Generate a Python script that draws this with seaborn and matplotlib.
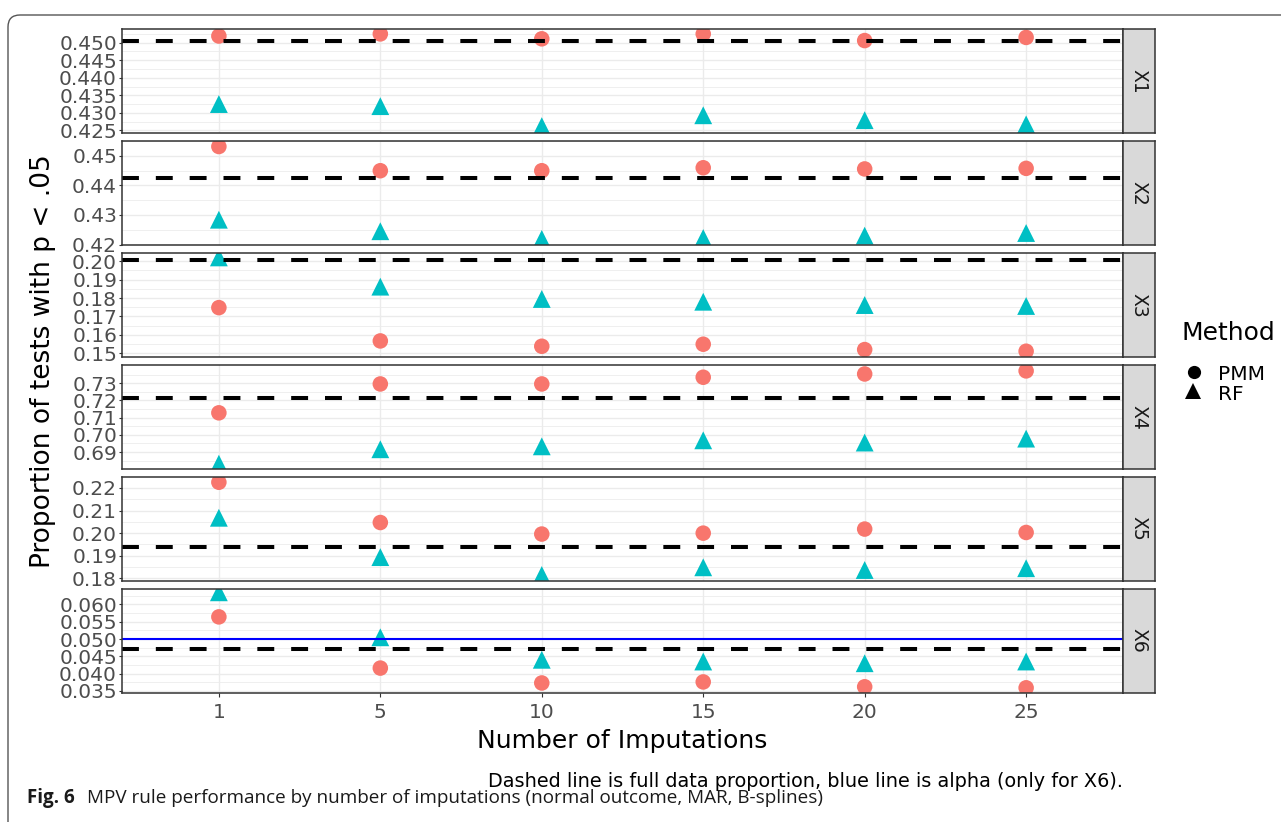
import matplotlib
matplotlib.use("Agg")
import matplotlib.pyplot as plt
import seaborn as sns
import pandas as pd
import numpy as np
from matplotlib.lines import Line2D
from matplotlib.patches import FancyBboxPatch
from matplotlib.transforms import IdentityTransform

# ---------------- data ----------------
imputations = ["1", "5", "10", "15", "20", "25"]
variables = ["X1", "X2", "X3", "X4", "X5", "X6"]
methods = ["PMM", "RF"]

PMM_X1 = [0.4519, 0.4525, 0.4511, 0.4525, 0.4506, 0.4515]
RF_X1 = [0.4325, 0.4319, 0.4262, 0.4293, 0.4279, 0.4267]
PMM_X2 = [0.4532, 0.4450, 0.4450, 0.4460, 0.4456, 0.4458]
RF_X2 = [0.4284, 0.4245, 0.4219, 0.4222, 0.4230, 0.4239]
PMM_X3 = [0.1748, 0.1567, 0.1538, 0.1549, 0.1520, 0.1511]
RF_X3 = [0.2021, 0.1862, 0.1795, 0.1780, 0.1762, 0.1757]
PMM_X4 = [0.7128, 0.7296, 0.7296, 0.7335, 0.7354, 0.7372]
RF_X4 = [0.6832, 0.6916, 0.6933, 0.6968, 0.6955, 0.6978]
PMM_X5 = [0.2225, 0.2047, 0.1996, 0.2000, 0.2018, 0.2003]
RF_X5 = [0.2068, 0.1894, 0.1815, 0.1849, 0.1837, 0.1845]
PMM_X6 = [0.0564, 0.0416, 0.0373, 0.0376, 0.0362, 0.0359]
RF_X6 = [0.0635, 0.0505, 0.0440, 0.0435, 0.0430, 0.0435]

FULL_DATA = [0.4505, 0.4427, 0.2005, 0.7213, 0.1940, 0.0470]
ALPHA = 0.05

YTICKS_X1 = [0.425, 0.430, 0.435, 0.440, 0.445, 0.450]
YTICKS_X2 = [0.42, 0.43, 0.44, 0.45]
YTICKS_X3 = [0.15, 0.16, 0.17, 0.18, 0.19, 0.20]
YTICKS_X4 = [0.69, 0.70, 0.71, 0.72, 0.73]
YTICKS_X5 = [0.18, 0.19, 0.20, 0.21, 0.22]
YTICKS_X6 = [0.035, 0.040, 0.045, 0.050, 0.055, 0.060]

pmm_series = [PMM_X1, PMM_X2, PMM_X3, PMM_X4, PMM_X5, PMM_X6]
rf_series = [RF_X1, RF_X2, RF_X3, RF_X4, RF_X5, RF_X6]
yticks_all = [YTICKS_X1, YTICKS_X2, YTICKS_X3, YTICKS_X4, YTICKS_X5, YTICKS_X6]

# ---------------- layout / style ----------------
YLIMS = [(0.4241, 0.4539), (0.4197, 0.4551), (0.1478, 0.2046),
         (0.6800, 0.7408), (0.1788, 0.2250), (0.0344, 0.0646)]
YFMT = ["{:.3f}", "{:.2f}", "{:.2f}", "{:.2f}", "{:.2f}", "{:.3f}"]
PALETTE = {"PMM": "#F8766D", "RF": "#00BFC4"}
MARKERS = {"PMM": "o", "RF": "^"}
SIZES = {"PMM": 125, "RF": 165}

sns.set_theme(style="white")
plt.rcParams['font.family'] = ['DejaVu Sans']

W, H = 1281, 822
fig = plt.figure(figsize=(W / 100, H / 100), dpi=100)
fig.patch.set_facecolor("white")


def fx(px):
    return px / W


def fy(py):
    return 1 - py / H


PANEL_L, PANEL_R, STRIP_R = 122, 1123, 1155
PANEL_TOP, PANEL_BOT = 29, 693
GAP = 7.4
n = len(variables)
ph = (PANEL_BOT - PANEL_TOP - GAP * (n - 1)) / n

EDGE = "#333333"
GRID = "#EBEBEB"

for i, var in enumerate(variables):
    top = PANEL_TOP + i * (ph + GAP)
    ax = fig.add_axes([fx(PANEL_L), fy(top + ph), fx(PANEL_R) - fx(PANEL_L), ph / H])
    df = pd.DataFrame({
        "Imputations": imputations * 2,
        "Proportion": pmm_series[i] + rf_series[i],
        "Method": ["PMM"] * len(imputations) + ["RF"] * len(imputations),
    })
    sns.scatterplot(data=df, x="Imputations", y="Proportion", hue="Method",
                    style="Method", size="Method", palette=PALETTE,
                    markers=MARKERS, sizes=SIZES, linewidth=0, alpha=1,
                    legend=False, ax=ax, zorder=3)
    ax.axhline(FULL_DATA[i], color="black", lw=2.9, ls=(0, (4.2, 4.2)), zorder=4)
    if var == "X6":
        ax.axhline(ALPHA, color="#0000FF", lw=1.5, zorder=4)

    ax.set_xlim(-0.6, len(imputations) - 0.4)
    lo, hi = YLIMS[i]
    ax.set_ylim(lo, hi)
    yt = yticks_all[i]
    ax.set_yticks(yt)
    ax.set_yticklabels([YFMT[i].format(v) for v in yt])
    step = yt[1] - yt[0]
    minors = [v for v in np.arange(yt[0] - step / 2, yt[-1] + step, step) if lo < v < hi]
    ax.set_yticks(minors, minor=True)

    ax.set_axisbelow(True)
    ax.grid(True, which="major", color=GRID, lw=1.0)
    ax.grid(True, which="minor", axis="y", color=GRID, lw=0.55)
    for s in ax.spines.values():
        s.set_color(EDGE)
        s.set_linewidth(1.1)
        s.set_zorder(5)
    ax.tick_params(axis="y", which="major", left=True, length=2.4, width=0.8,
                   color=EDGE, pad=1.2, labelsize=14.5, labelcolor="#4D4D4D")
    ax.tick_params(which="minor", length=0)
    ax.set_xlabel("")
    ax.set_ylabel("")
    if i == n - 1:
        ax.tick_params(axis="x", which="major", bottom=True, length=2.6, width=0.8,
                       color=EDGE, pad=4.4, labelsize=14.5, labelcolor="#4D4D4D")
    else:
        ax.tick_params(axis="x", which="major", bottom=False, labelbottom=False)

    # facet strip
    sax = fig.add_axes([fx(PANEL_R), fy(top + ph), fx(STRIP_R) - fx(PANEL_R), ph / H])
    sax.set_facecolor("#D9D9D9")
    sax.set_xticks([])
    sax.set_yticks([])
    for s in sax.spines.values():
        s.set_color(EDGE)
        s.set_linewidth(1.1)
    sax.text(0.5, 0.5, var, rotation=-90, ha="center", va="center",
             fontsize=13.5, color="#1A1A1A", transform=sax.transAxes)

# axis titles
fig.text(fx((PANEL_L + PANEL_R) / 2), fy(748), "Number of Imputations",
         ha="center", va="baseline", fontsize=18, color="black")
fig.text(fx(43), fy((PANEL_TOP + PANEL_BOT) / 2), "Proportion of tests with p < .05",
         ha="center", va="center", rotation=90, fontsize=19, color="black")

# legend (manual, ggplot style)
fig.text(fx(1182), fy(339.5), "Method", ha="left", va="baseline", fontsize=18, color="black")
fig.add_artist(Line2D([fx(1194)], [fy(372)], marker="o", ls="", color="black",
                      markersize=9.5, markeredgewidth=0, transform=fig.transFigure))
fig.add_artist(Line2D([fx(1193)], [fy(391)], marker="^", ls="", color="black",
                      markersize=11.5, markeredgewidth=0, transform=fig.transFigure))
fig.text(fx(1218), fy(380), "PMM", ha="left", va="baseline", fontsize=14.5, color="black")
fig.text(fx(1218), fy(400), "RF", ha="left", va="baseline", fontsize=14.5, color="black")

# plot caption
fig.text(fx(PANEL_R), fy(787), "Dashed line is full data proportion, blue line is alpha (only for X6).",
         ha="right", va="baseline", fontsize=13.9, color="black")

# journal figure caption
fig.text(fx(27), fy(803), "Fig. 6", ha="left", va="baseline", fontsize=13.5,
         fontweight="bold", family=["Open Sans", "DejaVu Sans"], color="#1A1A1A")
fig.text(fx(87), fy(803), "MPV rule performance by number of imputations (normal outcome, MAR, B-splines)",
         ha="left", va="baseline", fontsize=13.6, family=["Open Sans", "DejaVu Sans"], color="#1A1A1A")

# outer rounded frame
frame = FancyBboxPatch((8, -20), 1320, H - 15 + 20, boxstyle="round,pad=0,rounding_size=12",
                       transform=IdentityTransform(), fill=False, edgecolor="#555555", lw=1.0)
fig.patches.append(frame)

fig.savefig("out.png", dpi=100, facecolor="white")
